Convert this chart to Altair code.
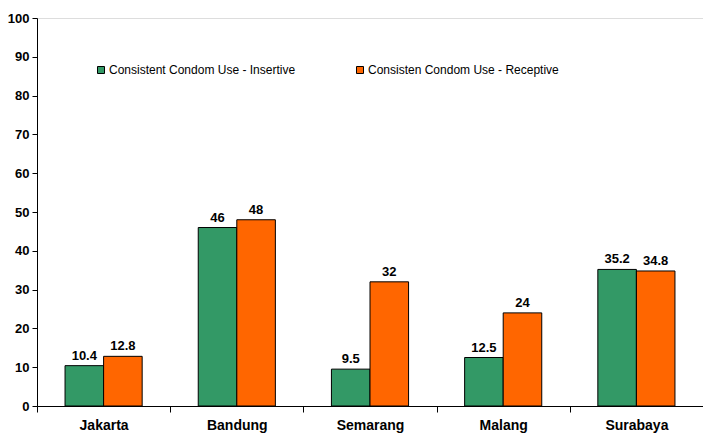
import altair as alt
import pandas as pd

# Categories and series values
cities = ["Jakarta", "Bandung", "Semarang", "Malang", "Surabaya"]
series = ["Consistent Condom Use - Insertive", "Consisten Condom Use - Receptive"]
insertive = [10.4, 46, 9.5, 12.5, 35.2]
receptive = [12.8, 48, 32, 24, 34.8]
colors = ["#339966", "#FF6600"]
y_ticks = list(range(0, 101, 10))

rows = []
for i, c in enumerate(cities):
    rows.append({"city": c, "series": series[0], "value": insertive[i]})
    rows.append({"city": c, "series": series[1], "value": receptive[i]})
df = pd.DataFrame(rows)
df["label"] = df["value"].map(lambda v: f"{v:g}")

FONT = "Liberation Sans"

x = alt.X(
    "city:N",
    sort=cities,
    title=None,
    scale=alt.Scale(paddingInner=0, paddingOuter=0),
    axis=alt.Axis(
        labelAngle=0,
        tickBand="extent",
        labelFont=FONT,
        labelFontWeight="bold",
        labelFontSize=14,
        labelColor="black",
        domainColor="black",
        tickColor="black",
        tickSize=6,
        labelPadding=6,
    ),
)
x_off = alt.XOffset(
    "series:N", sort=series, scale=alt.Scale(paddingInner=0, paddingOuter=0.727)
)
y = alt.Y(
    "value:Q",
    title=None,
    scale=alt.Scale(domain=[0, 100], nice=False),
    axis=alt.Axis(
        values=y_ticks,
        grid=False,
        labelFont=FONT,
        labelFontWeight="bold",
        labelFontSize=13,
        labelColor="black",
        domainColor="black",
        tickColor="black",
        tickSize=5,
        labelPadding=3,
    ),
)
color = alt.Color(
    "series:N",
    sort=series,
    scale=alt.Scale(domain=series, range=colors),
    legend=alt.Legend(
        title=None,
        orient="none",
        legendX=58,
        legendY=46,
        direction="horizontal",
        columnPadding=58,
        symbolType="square",
        symbolSize=49,
        symbolStrokeColor="black",
        symbolStrokeWidth=1,
        labelFont=FONT,
        labelFontSize=12,
        labelColor="black",
        labelOffset=2,
        labelLimit=400,
        padding=0,
    ),
)

base = alt.Chart(df)
bars = base.mark_bar(stroke="black", strokeWidth=1).encode(
    x=x, xOffset=x_off, y=y, color=color
)
labels = base.mark_text(
    font=FONT, fontWeight="bold", fontSize=13, baseline="alphabetic", dy=-6, color="black"
).encode(x=x, xOffset=x_off, y=y, text="label:N")

chart = (
    alt.layer(bars, labels)
    .properties(
        width=666,
        height=388,
        autosize="none",
        padding={"left": 37, "top": 18, "right": 0, "bottom": 28},
    )
    .configure_view(stroke=None)
    .configure(background="white")
)

chart.save("out.html", embed_options={"renderer": "svg", "actions": False})
